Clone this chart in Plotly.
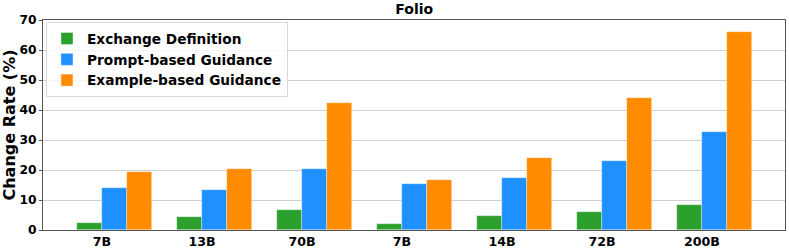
import numpy as np
import plotly.graph_objects as go

categories = ["7B", "13B", "70B", "7B", "14B", "72B", "200B"]
exchange_definition = [2.2, 4.4, 6.7, 2.1, 4.8, 5.9, 8.3]
prompt_based = [13.9, 13.2, 20.3, 15.3, 17.4, 23.1, 32.6]
example_based = [19.4, 20.3, 42.4, 16.7, 24.1, 43.9, 66.1]

series = [
    ("Exchange Definition", exchange_definition, "#2ca02c", -0.125),
    ("Prompt-based Guidance", prompt_based, "#1e90ff", 0.125),
    ("Example-based Guidance", example_based, "#ff8c00", 0.375),
]

pos = np.arange(len(categories))
W = 0.25
fig = go.Figure()
for name, vals, color, off in series:
    fig.add_trace(go.Bar(
        x=pos + off, y=vals, width=W, name=f"<b>{name}</b>",
        marker=dict(color=color, line=dict(width=0.6, color="rgba(255,255,255,0.6)")),
    ))

font = "DejaVu Sans"
fig.update_layout(
    width=789, height=252,
    margin=dict(l=43, r=4, t=20, b=22, autoexpand=False),
    paper_bgcolor="white", plot_bgcolor="white",
    font=dict(family=font, size=12, color="black"),
    title=dict(text="<b>Folio</b>", x=0.525, xanchor="center", y=0.962, yanchor="middle",
               font=dict(size=14, family=font)),
    showlegend=True,
    legend=dict(x=0.004, y=0.99, xanchor="left", yanchor="top",
                bordercolor="#d8d8d8", borderwidth=1, bgcolor="rgba(255,255,255,0.8)",
                font=dict(size=13.7, family=font), tracegroupgap=0, itemwidth=30,
                traceorder="normal"),
    bargap=0,
)
fig.update_xaxes(
    range=[-0.59, 6.83], tickvals=pos, ticktext=[f"<b>{c}</b>" for c in categories],
    showgrid=False, showline=True, linecolor="#555555", linewidth=1, mirror=True,
    ticks="", tickfont=dict(size=12.6, family=font), zeroline=False, automargin=False,
)
fig.update_yaxes(
    range=[0, 70], tickvals=list(range(0, 71, 10)),
    ticktext=[f"<b>{v}</b>" for v in range(0, 71, 10)],
    showgrid=True, gridcolor="#d0d0d0", gridwidth=1,
    showline=True, linecolor="#555555", linewidth=1, mirror=True,
    ticks="outside", ticklen=3, tickcolor="#555555",
    tickfont=dict(size=12.3, family=font), zeroline=False, automargin=False,
    title=dict(text="<b>Change Rate (%)</b>", font=dict(size=16, family=font), standoff=2),
)
fig.write_html("out.html", config={"displayModeBar": False},
               post_script="document.body.style.margin='0';")
